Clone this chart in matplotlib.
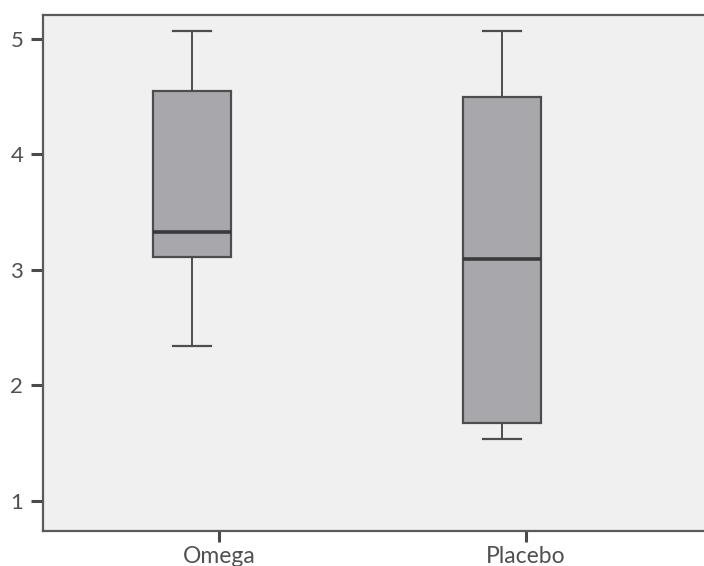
import matplotlib
matplotlib.use("Agg")
import matplotlib.pyplot as plt

# box statistics
groups = ["Omega", "Placebo"]
whisker_low = [2.34, 1.53]
q1 = [3.11, 1.67]
median = [3.33, 3.09]
q3 = [4.55, 4.50]
whisker_high = [5.07, 5.07]
yticks = [1, 2, 3, 4, 5]

plt.rcParams['font.family'] = ['Lato', 'DejaVu Sans']

fig = plt.figure(figsize=(7.04, 5.66), dpi=100)
ax = fig.add_axes([0.0607, 0.0618, 0.9393, 0.9112])
ax.set_facecolor("#f0f0f0")

stats = []
for i, g in enumerate(groups):
    stats.append(dict(label=g, whislo=whisker_low[i], q1=q1[i], med=median[i],
                      q3=q3[i], whishi=whisker_high[i], fliers=[]))

edge = "#4d4d4f"
ax.bxp(stats, positions=[0.913, 1.921], widths=0.254, capwidths=0.124,
       patch_artist=True, showfliers=False,
       boxprops=dict(facecolor="#a8a8ac", edgecolor=edge, linewidth=1.6),
       medianprops=dict(color="#3a3a3c", linewidth=2.6),
       whiskerprops=dict(color=edge, linewidth=1.4),
       capprops=dict(color=edge, linewidth=1.6))

ax.set_xlim(0.426, 2.58)
ax.set_ylim(0.737, 5.205)
ax.set_xticks([1, 2])
ax.set_xticklabels(groups)
ax.set_yticks(yticks)

for s in ["left", "top", "bottom"]:
    ax.spines[s].set_color("#5a5a5a")
    ax.spines[s].set_linewidth(1.6)
ax.spines["right"].set_visible(False)

ax.tick_params(axis="y", length=9, width=2.2, color="#4a4a4a", labelsize=16,
               labelcolor="#505050", pad=5)
ax.tick_params(axis="x", length=8, width=2.2, color="#4a4a4a", labelsize=16.5,
               labelcolor="#505050", pad=3)

fig.savefig("out.png", dpi=100)
